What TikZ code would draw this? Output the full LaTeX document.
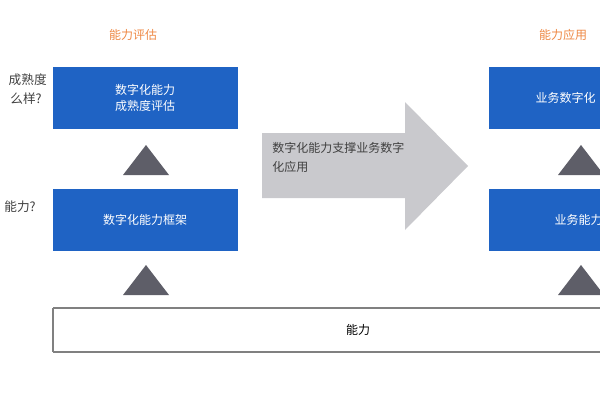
\documentclass[tikz,border=0pt]{standalone}
\usepackage{fontspec}
\setmainfont{Noto Sans CJK SC}
\usetikzlibrary{positioning, shapes.arrows}
\definecolor{boxblue}{HTML}{1F63C4}
\definecolor{tagorange}{HTML}{EE8844}
\definecolor{trigray}{HTML}{5E5E68}
\definecolor{arrowgray}{HTML}{C9C9CD}
\tikzset{
  bluebox/.style={fill=boxblue, text=white, minimum width=138.75pt, minimum height=46.5pt, inner sep=0pt, align=center, font=\fontsize{9}{12}\selectfont},
  tag/.style={text=tagorange, font=\fontsize{9}{11}\selectfont},
  side/.style={text=black!75, font=\fontsize{9.5}{11}\selectfont, anchor=east, inner sep=0pt},
  uptri/.style={fill=trigray},
}
\begin{document}
\begin{tikzpicture}[x=0.75pt, y=-0.75pt]
  \useasboundingbox (0,0) rectangle (600,400);
  \clip (0,0) rectangle (600,400);
  % headings
  \node[tag] (evalhead) at (133,35) {能力评估};
  \node[tag] (usehead) at (563,35) {能力应用};
  % left questions
  \node[side] (q1) at (47,80) {成熟度};
  \node[side] (q2) at (42,99) {么样?};
  \node[side] (q3) at (36,207) {能力?};
  % left column
  \node[bluebox] (maturity) at (145,98) {数字化能力\\成熟度评估};
  \node[bluebox] (frame) at (145,220) {数字化能力框架};
  \fill[uptri] (146,145) -- (169,175) -- (123,175) -- cycle;
  \fill[uptri] (146,265) -- (169,295) -- (123,295) -- cycle;
  % right column
  \fill[boxblue] (489,67) rectangle (605,129);
  \fill[boxblue] (489,189) rectangle (605,251);
  \node[text=white, anchor=west, font=\fontsize{9}{11}\selectfont] (bizdigi) at (531,98) {业务数字化};
  \node[text=white, anchor=west, font=\fontsize{9}{11}\selectfont] (bizcap) at (550,220) {业务能力};
  \fill[uptri] (581,145) -- (604,175) -- (558,175) -- cycle;
  \fill[uptri] (581,265) -- (604,295) -- (558,295) -- cycle;
  % big arrow
  \fill[arrowgray] (262,133) -- (405,133) -- (405,102) -- (468,166) -- (405,230) -- (405,198) -- (262,198) -- cycle;
  \node[anchor=north west, align=left, text=black!75, inner sep=0pt, font=\fontsize{9}{14}\selectfont] (support) at (272,142) {数字化能力支撑业务数字\\化应用};
  % base bar
  \draw[black!50, line width=1pt] (53,308) -- (605,308) (53,352) -- (605,352) (53,308) -- (53,352);
  \node[font=\fontsize{9}{11}\selectfont] (base) at (358,330) {能力};
\end{tikzpicture}
\end{document}
